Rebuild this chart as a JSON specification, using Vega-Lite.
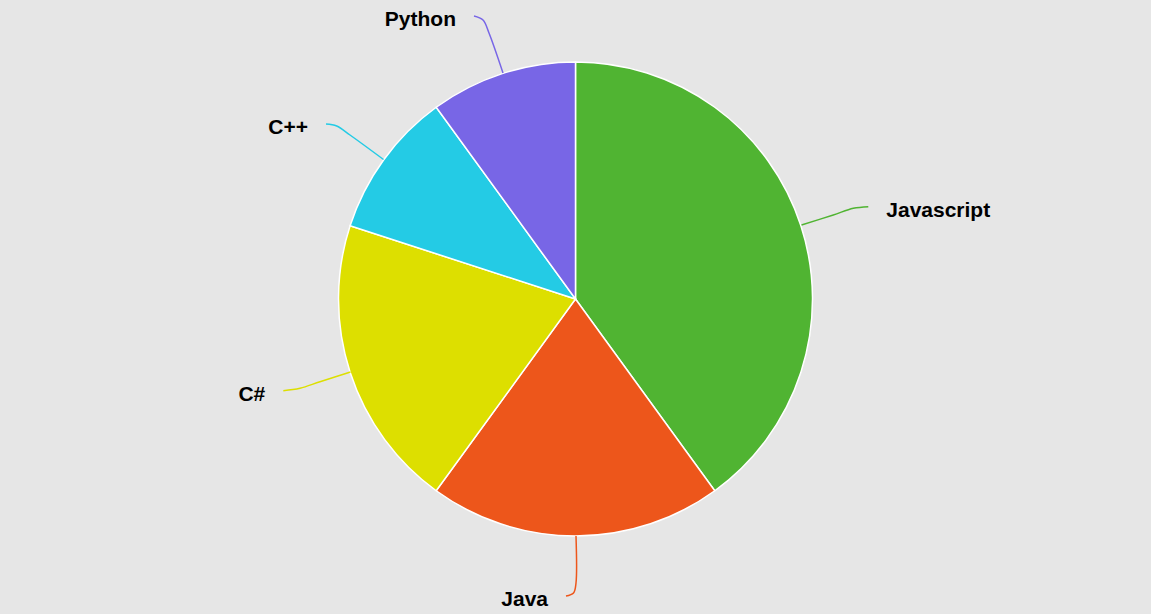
{
  "$schema": "https://vega.github.io/schema/vega-lite/v6.json",
  "autosize": {"type": "none"},
  "width": 1151,
  "height": 614,
  "padding": 0,
  "background": "#e6e6e6",
  "config": {"view": {"stroke": null}},
  "datasets": {
    "slices": [
      {"language": "Javascript", "share": 40, "rank": 1},
      {"language": "Java", "share": 20, "rank": 2},
      {"language": "C#", "share": 20, "rank": 3},
      {"language": "C++", "share": 10, "rank": 4},
      {"language": "Python", "share": 10, "rank": 5}
    ],
    "leaders": [
      {"language": "Javascript", "step": 0, "cx": 0.9536, "cy": 0.3122},
      {"language": "Javascript", "step": 1, "cx": 1.0878, "cy": 0.3544},
      {"language": "Javascript", "step": 2, "cx": 1.1722, "cy": 0.3827},
      {"language": "Javascript", "step": 3, "cx": 1.2354, "cy": 0.3895},
      {"language": "Java", "step": 0, "cx": 0.0021, "cy": -1.0},
      {"language": "Java", "step": 1, "cx": 0.0021, "cy": -1.1983},
      {"language": "Java", "step": 2, "cx": -0.0084, "cy": -1.2405},
      {"language": "Java", "step": 3, "cx": -0.0401, "cy": -1.2532},
      {"language": "C#", "step": 0, "cx": -0.9494, "cy": -0.308},
      {"language": "C#", "step": 1, "cx": -1.0781, "cy": -0.3489},
      {"language": "C#", "step": 2, "cx": -1.1624, "cy": -0.3768},
      {"language": "C#", "step": 3, "cx": -1.2329, "cy": -0.3869},
      {"language": "C++", "step": 0, "cx": -0.8101, "cy": 0.5886},
      {"language": "C++", "step": 1, "cx": -0.9515, "cy": 0.692},
      {"language": "C++", "step": 2, "cx": -1.0076, "cy": 0.73},
      {"language": "C++", "step": 3, "cx": -1.0527, "cy": 0.7384},
      {"language": "Python", "step": 0, "cx": -0.3059, "cy": 0.9536},
      {"language": "Python", "step": 1, "cx": -0.365, "cy": 1.1224},
      {"language": "Python", "step": 2, "cx": -0.3903, "cy": 1.1772},
      {"language": "Python", "step": 3, "cx": -0.4283, "cy": 1.1941}
    ]
  },
  "layer": [
    {
      "data": {"name": "slices"},
      "mark": {"type": "arc", "outerRadius": 237, "stroke": "#ffffff", "strokeWidth": 1.5},
      "encoding": {
        "x": {"datum": 0, "type": "quantitative", "scale": {"domain": [-2.42827, 2.42827], "nice": false, "zero": false}, "axis": null},
        "y": {"datum": 0, "type": "quantitative", "scale": {"domain": [-1.32911, 1.2616], "nice": false, "zero": false}, "axis": null},
        "theta": {"field": "share", "type": "quantitative", "stack": true},
        "order": {"field": "rank", "type": "quantitative"},
        "color": {
          "field": "language",
          "type": "nominal",
          "scale": {
            "domain": ["Javascript", "Java", "C#", "C++", "Python"],
            "range": ["#50B432", "#ED561B", "#DDDF00", "#24CBE5", "#7866E6"]
          },
          "legend": null
        }
      }
    },
    {
      "data": {"name": "leaders"},
      "mark": {"type": "line", "interpolate": "catmull-rom", "strokeWidth": 1.5},
      "encoding": {
        "x": {"field": "cx", "type": "quantitative"},
        "y": {"field": "cy", "type": "quantitative"},
        "color": {"field": "language", "type": "nominal", "legend": null},
        "order": {"field": "step", "type": "quantitative"}
      }
    },
    {
      "data": {"name": "leaders"},
      "transform": [{"filter": "datum.step == 3 && datum.cx < 0"}],
      "mark": {"type": "text", "align": "right", "baseline": "alphabetic", "dx": -18, "dy": 10, "font": "Liberation Sans", "fontWeight": "bold", "fontSize": 21, "color": "#000000"},
      "encoding": {
        "x": {"field": "cx", "type": "quantitative"},
        "y": {"field": "cy", "type": "quantitative"},
        "text": {"field": "language", "type": "nominal"}
      }
    },
    {
      "data": {"name": "leaders"},
      "transform": [{"filter": "datum.step == 3 && datum.cx >= 0"}],
      "mark": {"type": "text", "align": "left", "baseline": "alphabetic", "dx": 18, "dy": 10, "font": "Liberation Sans", "fontWeight": "bold", "fontSize": 21, "color": "#000000"},
      "encoding": {
        "x": {"field": "cx", "type": "quantitative"},
        "y": {"field": "cy", "type": "quantitative"},
        "text": {"field": "language", "type": "nominal"}
      }
    }
  ]
}
